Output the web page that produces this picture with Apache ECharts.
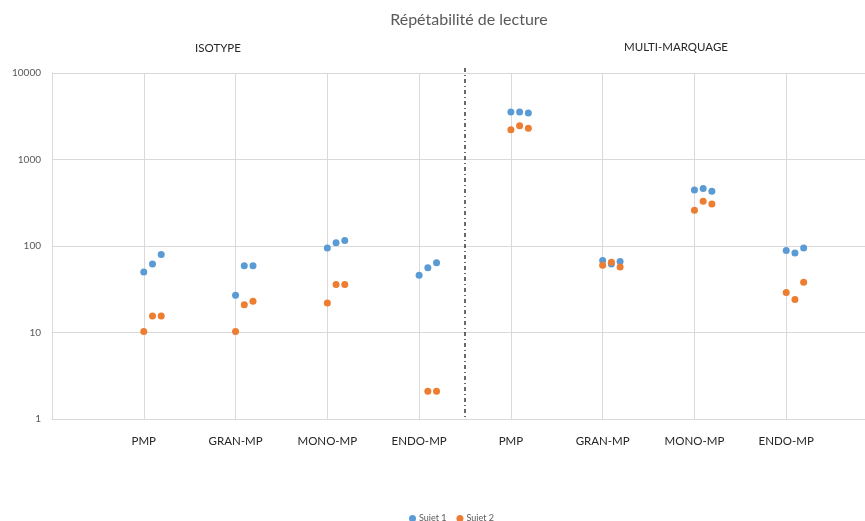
<!DOCTYPE html>
<html>
<head>
<meta charset="utf-8">
<script src="https://cdn.jsdelivr.net/npm/echarts@6/dist/echarts.min.js"></script>
<style>
  html, body { margin: 0; padding: 0; background: #fff; }
  #chart { width: 865px; height: 521px; }
</style>
</head>
<body>
<div id="chart"></div>
<script>
// Category labels along the x axis (positions 1..8)
const categories = ['PMP', 'GRAN-MP', 'MONO-MP', 'ENDO-MP', 'PMP', 'GRAN-MP', 'MONO-MP', 'ENDO-MP'];
// Three repeated readings per category, for each subject
const sujet1 = [
  [50, 62, 80],
  [27, 59, 59],
  [95, 109, 116],
  [46, 56, 64],
  [3540, 3540, 3440],
  [68, 62, 66],
  [444, 461, 429],
  [89, 83, 95]
];
const sujet2 = [
  [10.3, 15.5, 15.5],
  [10.3, 21, 23],
  [22, 36, 36],
  [null, 2.1, 2.1],
  [2210, 2460, 2290],
  [60, 65, 57],
  [259, 329, 306],
  [29, 24, 38]
];
// Horizontal offset of each reading around its category
const jitter = [0, 0.095, 0.19];
const seriesNames = ['Sujet 1', 'Sujet 2'];
const groupTitles = ['ISOTYPE', 'MULTI-MARQUAGE'];
const chartTitle = 'Répétabilité de lecture';
const separatorX = 4.5;

function toPoints(rows) {
  const pts = [];
  rows.forEach((row, i) => {
    row.forEach((v, j) => {
      if (v != null) pts.push([i + 1 + jitter[j], v]);
    });
  });
  return pts;
}

const FONT = 'Lato, "Open Sans", sans-serif';
const chart = echarts.init(document.getElementById('chart'));

chart.setOption({
  animation: false,
  backgroundColor: '#ffffff',
  grid: { left: 52, top: 73, width: 826, height: 346, containLabel: false, outerBoundsMode: 'none' },
  legend: {
    data: seriesNames,
    left: 404,
    top: 509,
    icon: 'circle',
    itemWidth: 7,
    itemHeight: 7,
    itemGap: 10,
    textStyle: { fontFamily: FONT, fontSize: 9, color: '#595959', padding: [0, 0, 0, -2] }
  },
  xAxis: {
    type: 'value',
    min: 0,
    max: 9,
    interval: 1,
    axisLine: { show: true, lineStyle: { color: '#d9d9d9', width: 1 } },
    axisTick: { show: false },
    splitLine: { show: true, lineStyle: { color: '#d9d9d9', width: 1 } },
    axisLabel: {
      margin: 16,
      fontFamily: FONT,
      fontSize: 11.5,
      color: '#262626',
      formatter: v => categories[v - 1] || ''
    }
  },
  yAxis: {
    type: 'log',
    logBase: 10,
    min: 1,
    max: 10000,
    axisLine: { show: true, lineStyle: { color: '#d9d9d9', width: 1 } },
    axisTick: { show: false },
    splitLine: { show: true, lineStyle: { color: '#d9d9d9', width: 1 } },
    axisLabel: {
      margin: 11,
      fontFamily: FONT,
      fontSize: 10,
      color: '#595959',
      formatter: v => String(Math.round(v))
    }
  },
  series: [
    {
      name: seriesNames[0],
      type: 'scatter',
      symbol: 'circle',
      symbolSize: 7,
      itemStyle: { color: '#5B9BD5', opacity: 1 },
      data: toPoints(sujet1)
    },
    {
      name: seriesNames[1],
      type: 'scatter',
      symbol: 'circle',
      symbolSize: 7,
      itemStyle: { color: '#ED7D31', opacity: 1 },
      data: toPoints(sujet2)
    }
  ]
});

// Titles and the dash-dot separator between the two groups
const sepTop = chart.convertToPixel({ gridIndex: 0 }, [separatorX, 10000]);
const sepBottom = chart.convertToPixel({ gridIndex: 0 }, [separatorX, 1]);

chart.setOption({
  graphic: [
    {
      type: 'text',
      style: { text: chartTitle, x: 469, y: 20, textAlign: 'center', textVerticalAlign: 'middle',
               font: '16px ' + FONT, fill: '#595959' }
    },
    {
      type: 'text',
      style: { text: groupTitles[0], x: 218, y: 48, textAlign: 'center', textVerticalAlign: 'middle',
               font: '11.5px ' + FONT, fill: '#262626' }
    },
    {
      type: 'text',
      style: { text: groupTitles[1], x: 676, y: 47, textAlign: 'center', textVerticalAlign: 'middle',
               font: '11.5px ' + FONT, fill: '#262626' }
    },
    {
      type: 'line',
      shape: { x1: sepTop[0], y1: sepTop[1] - 5, x2: sepBottom[0], y2: sepBottom[1] },
      style: { stroke: '#1a1a1a', lineWidth: 1.3, lineDash: [4, 3, 1, 3] },
      z: 10
    }
  ]
});
</script>
</body>
</html>
